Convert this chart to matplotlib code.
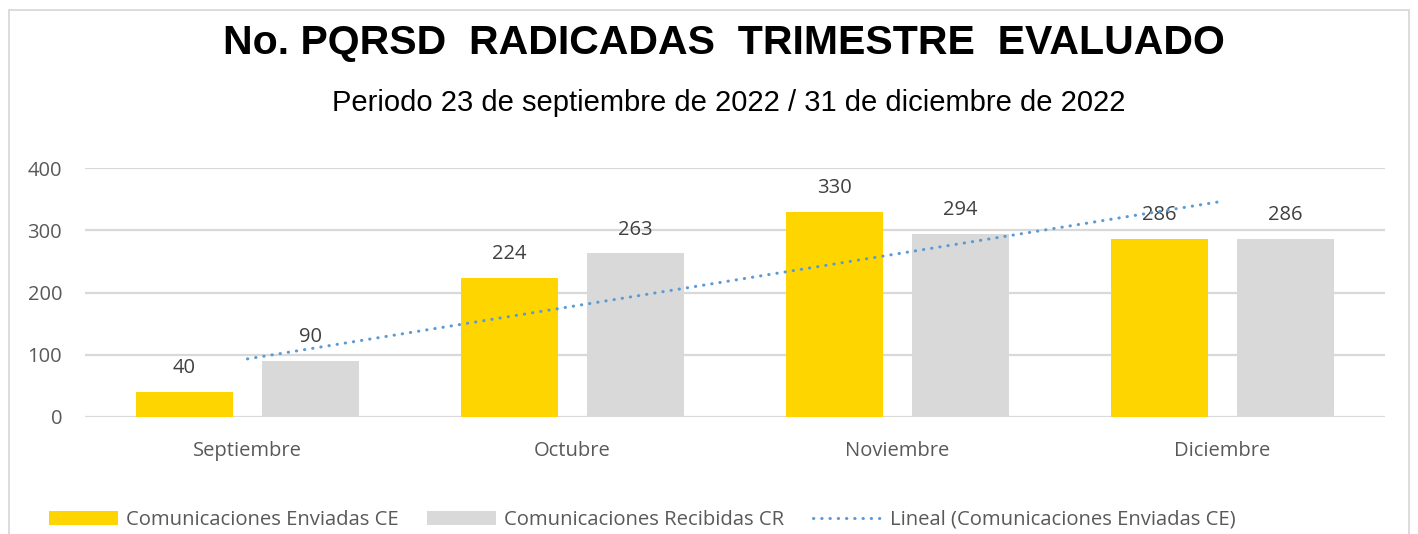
import matplotlib
matplotlib.use("Agg")
import matplotlib.pyplot as plt
import numpy as np
from matplotlib.patches import Rectangle, Patch
from matplotlib.lines import Line2D

# data
meses = ["Septiembre", "Octubre", "Noviembre", "Diciembre"]
enviadas_ce = [40, 224, 330, 286]
recibidas_cr = [90, 263, 294, 286]
y_ticks = [0, 100, 200, 300, 400]

titulo = "No. PQRSD  RADICADAS  TRIMESTRE  EVALUADO"
subtitulo = "Periodo 23 de septiembre de 2022 / 31 de diciembre de 2022"
serie_ce = "Comunicaciones Enviadas CE"
serie_cr = "Comunicaciones Recibidas CR"
serie_trend = "Lineal (Comunicaciones Enviadas CE)"

color_ce = "#FFD500"
color_cr = "#D9D9D9"
color_trend = "#5B9BD5"
text_gray = "#595959"
label_gray = "#404040"

plt.rcParams["font.family"] = ["Open Sans", "DejaVu Sans"]

fig = plt.figure(figsize=(14.18, 5.34), dpi=100)
fig.patch.set_facecolor("white")

# outer chart border (runs off the bottom like the reference)
fig.add_artist(Rectangle((9 / 1418, -0.05), 1400 / 1418, 1.05 - 10 / 534,
                         transform=fig.transFigure, fill=False,
                         edgecolor="#D9D9D9", lw=1.3))

ax = fig.add_axes([85 / 1418, 117 / 534, 1300 / 1418, 249 / 534])

x = np.arange(len(meses))
width = 0.30
off = 0.194
b1 = ax.bar(x - off, enviadas_ce, width, color=color_ce, zorder=3)
b2 = ax.bar(x + off, recibidas_cr, width, color=color_cr, zorder=3)

for rects, vals in ((b1, enviadas_ce), (b2, recibidas_cr)):
    for r, v in zip(rects, vals):
        ax.annotate(str(v), (r.get_x() + r.get_width() / 2, v),
                    xytext=(0, 17), textcoords="offset points",
                    ha="center", va="center", fontsize=14.5,
                    color=label_gray, zorder=2)

# linear trend of the CE series
trend_style = dict(color=color_trend, lw=2.2, linestyle=(0, (0.1, 2.6)),
                   dash_capstyle="round")
coef = np.polyfit(x, enviadas_ce, 1)
ax.plot(x, np.polyval(coef, x), zorder=4, **trend_style)

ax.set_xlim(-0.5, len(meses) - 0.5)
ax.set_ylim(0, 400)
ax.set_yticks(y_ticks)
ax.set_xticks(x)
ax.set_xticklabels(meses)
ax.tick_params(axis="both", length=0, labelsize=14.5, labelcolor=text_gray)
ax.tick_params(axis="x", pad=17)
ax.tick_params(axis="y", pad=16.5)
ax.grid(axis="y", color="#D9D9D9", lw=1.6, zorder=0)
for s in ax.spines.values():
    s.set_visible(False)

fig.text(724 / 1418, 1 - 43 / 534, titulo, ha="center", va="center",
         fontsize=29.5, fontweight="bold", family="Liberation Sans",
         color="black")
fig.text(729 / 1418, 1 - 103 / 534, subtitulo, ha="center", va="center",
         fontsize=21, family="Liberation Sans", color="black")

handles = [Patch(facecolor=color_ce, edgecolor="none"),
           Patch(facecolor=color_cr, edgecolor="none"),
           Line2D([0], [0], **trend_style)]
fig.legend(handles, [serie_ce, serie_cr, serie_trend], ncol=3,
           loc="center left", bbox_to_anchor=(31 / 1418, 1 - 520 / 534),
           frameon=False, fontsize=14.6, labelcolor=text_gray,
           handlelength=3.4, handleheight=0.7, handletextpad=0.4,
           columnspacing=1.4)

fig.savefig("out.png", dpi=100)
